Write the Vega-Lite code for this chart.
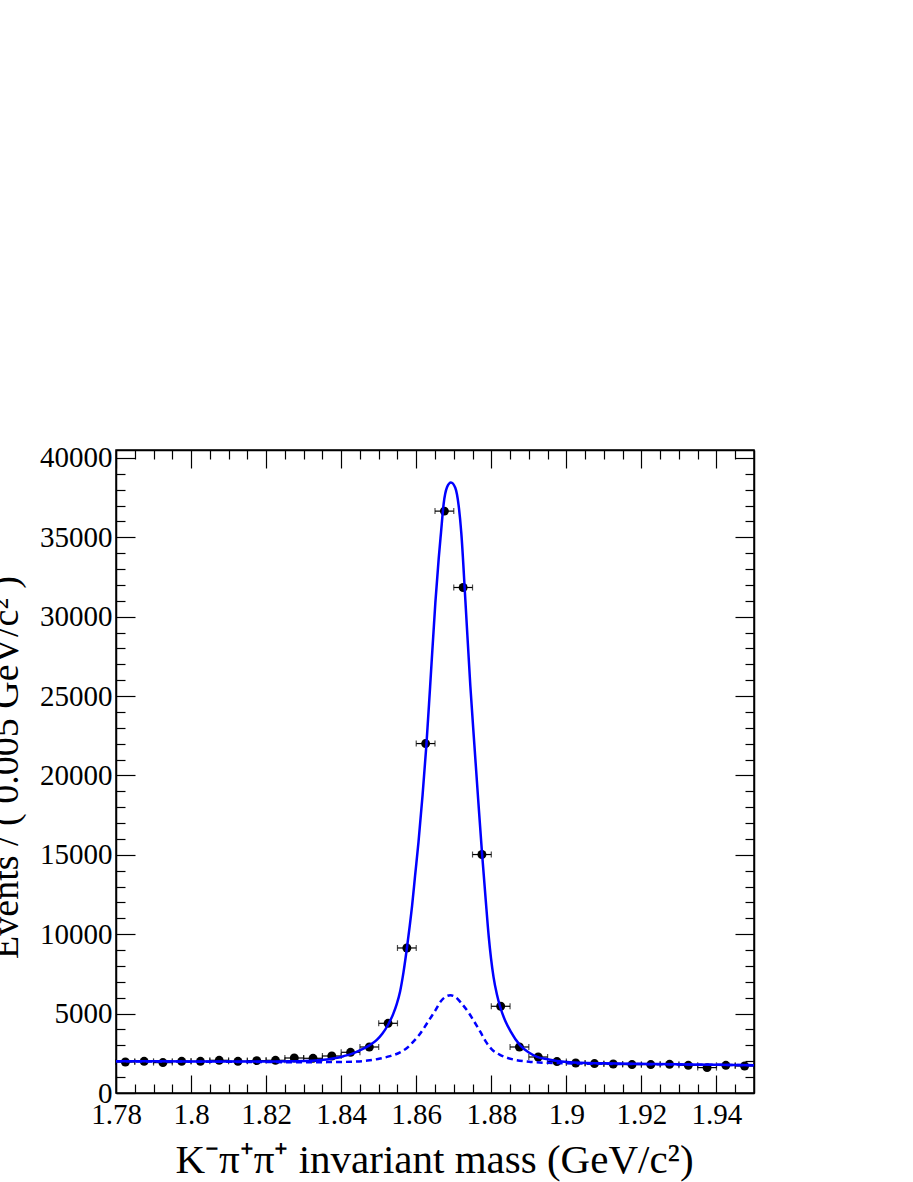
{
  "$schema": "https://vega.github.io/schema/vega-lite/v6.json",
  "width": 638,
  "height": 643,
  "autosize": {"type": "none"},
  "padding": {"left": 116, "top": 450, "right": 159, "bottom": 89},
  "background": "white",
  "config": {
    "view": {"stroke": "black", "strokeWidth": 1.5},
    "axis": {
      "grid": false,
      "domainColor": "black",
      "tickColor": "black",
      "labelColor": "black",
      "titleColor": "black",
      "labelFont": "Liberation Serif",
      "titleFont": "Liberation Serif",
      "labelFontSize": 29,
      "titleFontSize": 41,
      "titleFontWeight": "normal",
      "tickWidth": 1.2,
      "domainWidth": 1.5
    }
  },
  "datasets": {
    "pts": [
      {"m": 1.7825, "lo": 1.780, "hi": 1.785, "n": 1953},
      {"m": 1.7875, "lo": 1.785, "hi": 1.790, "n": 1997},
      {"m": 1.7925, "lo": 1.790, "hi": 1.795, "n": 1915},
      {"m": 1.7975, "lo": 1.795, "hi": 1.800, "n": 1997},
      {"m": 1.8025, "lo": 1.800, "hi": 1.805, "n": 1997},
      {"m": 1.8075, "lo": 1.805, "hi": 1.810, "n": 2060},
      {"m": 1.8125, "lo": 1.810, "hi": 1.815, "n": 1997},
      {"m": 1.8175, "lo": 1.815, "hi": 1.820, "n": 2040},
      {"m": 1.8225, "lo": 1.820, "hi": 1.825, "n": 2060},
      {"m": 1.8275, "lo": 1.825, "hi": 1.830, "n": 2205},
      {"m": 1.8325, "lo": 1.830, "hi": 1.835, "n": 2186},
      {"m": 1.8375, "lo": 1.835, "hi": 1.840, "n": 2331},
      {"m": 1.8425, "lo": 1.840, "hi": 1.845, "n": 2564},
      {"m": 1.8475, "lo": 1.845, "hi": 1.850, "n": 2898},
      {"m": 1.8525, "lo": 1.850, "hi": 1.855, "n": 4390},
      {"m": 1.8575, "lo": 1.855, "hi": 1.860, "n": 9135},
      {"m": 1.8625, "lo": 1.860, "hi": 1.865, "n": 22010},
      {"m": 1.8675, "lo": 1.865, "hi": 1.870, "n": 36650},
      {"m": 1.8725, "lo": 1.870, "hi": 1.875, "n": 31840},
      {"m": 1.8775, "lo": 1.875, "hi": 1.880, "n": 15020},
      {"m": 1.8825, "lo": 1.880, "hi": 1.885, "n": 5462},
      {"m": 1.8875, "lo": 1.885, "hi": 1.890, "n": 2898},
      {"m": 1.8925, "lo": 1.890, "hi": 1.895, "n": 2268},
      {"m": 1.8975, "lo": 1.895, "hi": 1.900, "n": 1978},
      {"m": 1.9025, "lo": 1.900, "hi": 1.905, "n": 1890},
      {"m": 1.9075, "lo": 1.905, "hi": 1.910, "n": 1852},
      {"m": 1.9125, "lo": 1.910, "hi": 1.915, "n": 1827},
      {"m": 1.9175, "lo": 1.915, "hi": 1.920, "n": 1790},
      {"m": 1.9225, "lo": 1.920, "hi": 1.925, "n": 1790},
      {"m": 1.9275, "lo": 1.925, "hi": 1.930, "n": 1808},
      {"m": 1.9325, "lo": 1.930, "hi": 1.935, "n": 1745},
      {"m": 1.9375, "lo": 1.935, "hi": 1.940, "n": 1600},
      {"m": 1.9425, "lo": 1.940, "hi": 1.945, "n": 1745},
      {"m": 1.9475, "lo": 1.945, "hi": 1.950, "n": 1701}
    ],
    "total": [
      {"m": 1.780, "v": 1997}, {"m": 1.790, "v": 1993}, {"m": 1.800, "v": 1990},
      {"m": 1.810, "v": 1987}, {"m": 1.820, "v": 1985}, {"m": 1.826, "v": 1992},
      {"m": 1.830, "v": 2010}, {"m": 1.834, "v": 2060}, {"m": 1.8362, "v": 2110},
      {"m": 1.8385, "v": 2200}, {"m": 1.8406, "v": 2320}, {"m": 1.843, "v": 2480},
      {"m": 1.8451, "v": 2700}, {"m": 1.8475, "v": 3000}, {"m": 1.8495, "v": 3350},
      {"m": 1.851, "v": 3750}, {"m": 1.8525, "v": 4300}, {"m": 1.8539, "v": 5000},
      {"m": 1.8548, "v": 5600}, {"m": 1.8557, "v": 6400}, {"m": 1.8566, "v": 7600},
      {"m": 1.8575, "v": 9100}, {"m": 1.8582, "v": 10400}, {"m": 1.8589, "v": 11800},
      {"m": 1.8597, "v": 13700}, {"m": 1.8606, "v": 15800}, {"m": 1.8617, "v": 18800},
      {"m": 1.8627, "v": 21900}, {"m": 1.8637, "v": 25600}, {"m": 1.8651, "v": 30900},
      {"m": 1.866, "v": 33700}, {"m": 1.8666, "v": 35300}, {"m": 1.8673, "v": 37100},
      {"m": 1.8682, "v": 38150}, {"m": 1.86925, "v": 38450}, {"m": 1.8704, "v": 38120},
      {"m": 1.8713, "v": 37000}, {"m": 1.872, "v": 35300}, {"m": 1.8731, "v": 31000},
      {"m": 1.8744, "v": 25700}, {"m": 1.8755, "v": 21900}, {"m": 1.8765, "v": 18500},
      {"m": 1.8775, "v": 15200}, {"m": 1.8785, "v": 12200}, {"m": 1.8793, "v": 9900},
      {"m": 1.8806, "v": 7300}, {"m": 1.8815, "v": 6200}, {"m": 1.8824, "v": 5400},
      {"m": 1.8838, "v": 4500}, {"m": 1.8851, "v": 3900}, {"m": 1.8877, "v": 3000},
      {"m": 1.890, "v": 2550}, {"m": 1.8922, "v": 2280}, {"m": 1.895, "v": 2120},
      {"m": 1.8975, "v": 2010}, {"m": 1.9037, "v": 1900}, {"m": 1.910, "v": 1875},
      {"m": 1.9171, "v": 1850}, {"m": 1.930, "v": 1810}, {"m": 1.940, "v": 1780},
      {"m": 1.950, "v": 1755}
    ],
    "bkg": [
      {"m": 1.780, "v": 1997}, {"m": 1.800, "v": 1975}, {"m": 1.820, "v": 1950},
      {"m": 1.830, "v": 1940}, {"m": 1.838, "v": 1948}, {"m": 1.843, "v": 1975},
      {"m": 1.847, "v": 2040}, {"m": 1.8504, "v": 2170}, {"m": 1.853, "v": 2320},
      {"m": 1.8557, "v": 2560}, {"m": 1.8576, "v": 2850}, {"m": 1.8593, "v": 3250},
      {"m": 1.8606, "v": 3600}, {"m": 1.862, "v": 4070}, {"m": 1.8635, "v": 4620},
      {"m": 1.8651, "v": 5204}, {"m": 1.8665, "v": 5760}, {"m": 1.868, "v": 6090},
      {"m": 1.8691, "v": 6157}, {"m": 1.8705, "v": 6040}, {"m": 1.872, "v": 5660},
      {"m": 1.874, "v": 5050}, {"m": 1.8755, "v": 4480}, {"m": 1.8771, "v": 3843},
      {"m": 1.8785, "v": 3250}, {"m": 1.8802, "v": 2730}, {"m": 1.8822, "v": 2420},
      {"m": 1.8842, "v": 2220}, {"m": 1.8865, "v": 2080}, {"m": 1.8904, "v": 1960},
      {"m": 1.895, "v": 1900}, {"m": 1.900, "v": 1870}, {"m": 1.920, "v": 1820},
      {"m": 1.950, "v": 1755}
    ]
  },
  "layer": [
    {
      "data": {"name": "pts"},
      "mark": {"type": "rule", "color": "black", "strokeWidth": 1.2},
      "encoding": {
        "x": {"field": "lo", "type": "quantitative",
              "scale": {"domain": [1.78, 1.95], "zero": false, "nice": false},
              "axis": {"orient": "bottom", "values": [1.78, 1.8, 1.82, 1.84, 1.86, 1.88, 1.9, 1.92, 1.94],
                       "format": ".2~f", "tickSize": -18, "labelPadding": 25, "labelFlush": false, "labelOverlap": false,
                       "title": "K⁻π⁺π⁺ invariant mass (GeV/c²)", "titleX": 318, "titleY": 79.6,
                       "titleAlign": "center", "titleBaseline": "alphabetic"}},
        "x2": {"field": "hi"},
        "y": {"field": "n", "type": "quantitative",
              "scale": {"domain": [0, 40500], "nice": false},
              "axis": {"orient": "left", "values": [0, 5000, 10000, 15000, 20000, 25000, 30000, 35000, 40000],
                       "format": "d", "tickSize": -19, "labelPadding": 23, "labelFlush": false, "labelOverlap": false,
                       "title": "Events / ( 0.005 GeV/c² )", "titleAngle": 270, "titleX": -99, "titleY": 317,
                       "titleAlign": "center", "titleBaseline": "alphabetic", "titleFontSize": 38}}
      }
    },
    {
      "data": {"name": "pts"},
      "mark": {"type": "tick", "orient": "vertical", "size": 6, "thickness": 1.2, "color": "black"},
      "encoding": {
        "x": {"field": "lo", "type": "quantitative",
              "scale": {"domain": [1.78, 1.95], "zero": false, "nice": false},
              "axis": {"orient": "bottom", "values": [1.785, 1.79, 1.795, 1.805, 1.81, 1.815, 1.825, 1.83, 1.835, 1.845, 1.85, 1.855, 1.865, 1.87, 1.875, 1.885, 1.89, 1.895, 1.905, 1.91, 1.915, 1.925, 1.93, 1.935, 1.945],
                       "tickSize": -9, "labels": false, "domain": false, "title": null}},
        "y": {"field": "n", "type": "quantitative",
              "scale": {"domain": [0, 40500], "nice": false},
              "axis": {"orient": "left", "values": [1000, 2000, 3000, 4000, 6000, 7000, 8000, 9000, 11000, 12000, 13000, 14000, 16000, 17000, 18000, 19000, 21000, 22000, 23000, 24000, 26000, 27000, 28000, 29000, 31000, 32000, 33000, 34000, 36000, 37000, 38000, 39000],
                       "tickSize": -9, "labels": false, "domain": false, "title": null}}
      }
    },
    {
      "data": {"name": "pts"},
      "mark": {"type": "tick", "orient": "vertical", "size": 6, "thickness": 1.2, "color": "black"},
      "encoding": {
        "x": {"field": "hi", "type": "quantitative",
              "scale": {"domain": [1.78, 1.95], "zero": false, "nice": false},
              "axis": {"orient": "top", "values": [1.78, 1.8, 1.82, 1.84, 1.86, 1.88, 1.9, 1.92, 1.94],
                       "tickSize": -18, "labels": false, "domain": true, "title": null}},
        "y": {"field": "n", "type": "quantitative",
              "scale": {"domain": [0, 40500], "nice": false},
              "axis": {"orient": "right", "values": [0, 5000, 10000, 15000, 20000, 25000, 30000, 35000, 40000],
                       "tickSize": -19, "labels": false, "domain": true, "title": null}}
      }
    },
    {
      "data": {"name": "pts"},
      "mark": {"type": "circle", "size": 80, "color": "black", "opacity": 1},
      "encoding": {
        "x": {"field": "m", "type": "quantitative",
              "scale": {"domain": [1.78, 1.95], "zero": false, "nice": false},
              "axis": {"orient": "top", "values": [1.785, 1.79, 1.795, 1.805, 1.81, 1.815, 1.825, 1.83, 1.835, 1.845, 1.85, 1.855, 1.865, 1.87, 1.875, 1.885, 1.89, 1.895, 1.905, 1.91, 1.915, 1.925, 1.93, 1.935, 1.945],
                       "tickSize": -9, "labels": false, "domain": false, "title": null}},
        "y": {"field": "n", "type": "quantitative",
              "scale": {"domain": [0, 40500], "nice": false},
              "axis": {"orient": "right", "values": [1000, 2000, 3000, 4000, 6000, 7000, 8000, 9000, 11000, 12000, 13000, 14000, 16000, 17000, 18000, 19000, 21000, 22000, 23000, 24000, 26000, 27000, 28000, 29000, 31000, 32000, 33000, 34000, 36000, 37000, 38000, 39000],
                       "tickSize": -9, "labels": false, "domain": false, "title": null}}
      }
    },
    {
      "data": {"name": "bkg"},
      "mark": {"type": "line", "color": "#0000ff", "strokeWidth": 2.5, "strokeDash": [6, 4], "interpolate": "monotone"},
      "encoding": {
        "x": {"field": "m", "type": "quantitative", "scale": {"domain": [1.78, 1.95], "zero": false, "nice": false}, "axis": null},
        "y": {"field": "v", "type": "quantitative", "scale": {"domain": [0, 40500], "nice": false}, "axis": null}
      }
    },
    {
      "data": {"name": "total"},
      "mark": {"type": "line", "color": "#0000ff", "strokeWidth": 2.5, "interpolate": "monotone"},
      "encoding": {
        "x": {"field": "m", "type": "quantitative", "scale": {"domain": [1.78, 1.95], "zero": false, "nice": false}, "axis": null},
        "y": {"field": "v", "type": "quantitative", "scale": {"domain": [0, 40500], "nice": false}, "axis": null}
      }
    }
  ],
  "resolve": {"axis": {"x": "independent", "y": "independent"}}
}
